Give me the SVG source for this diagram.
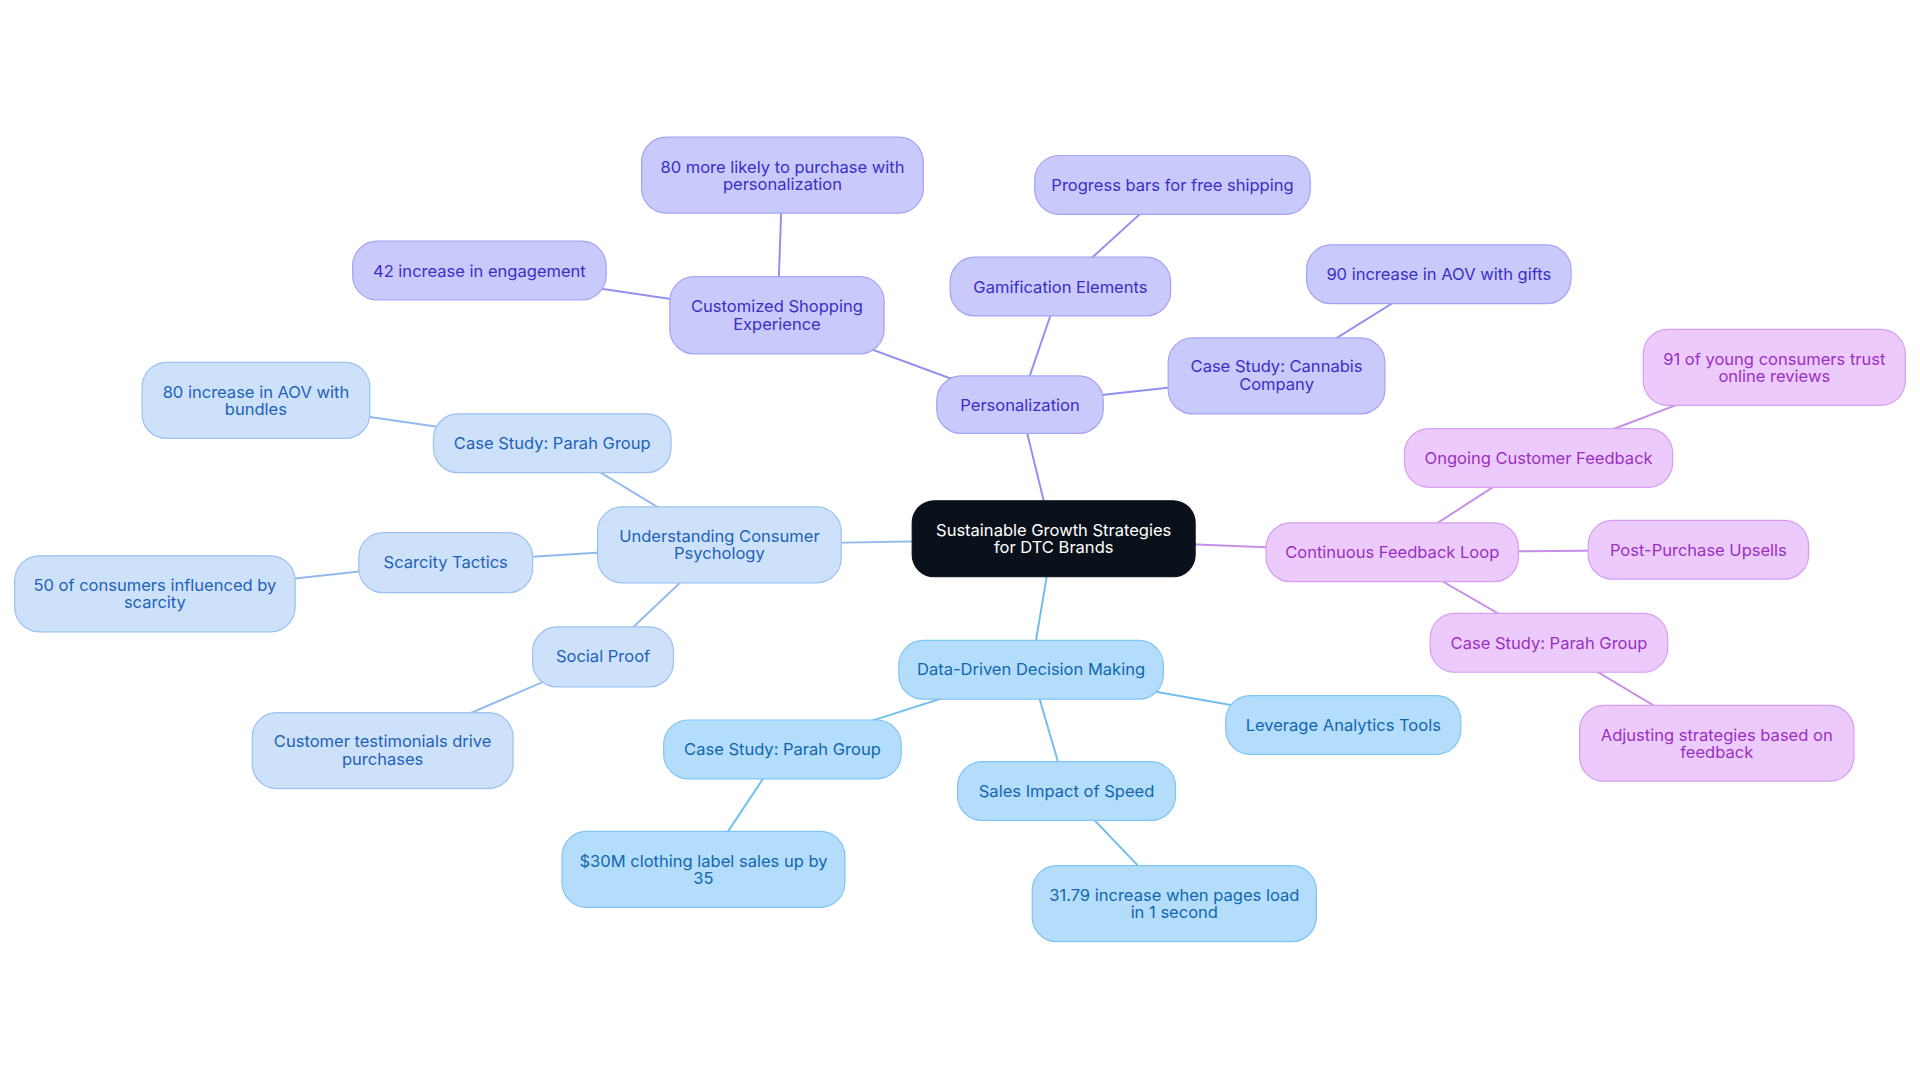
<svg xmlns="http://www.w3.org/2000/svg" width="1920" height="1083" viewBox="0 0 1920 1083">
<style>
text{font-family:Inter,"Noto Sans",sans-serif;font-size:13.5px;text-anchor:middle;dominant-baseline:central}
.p rect{fill:#c9c9fb;stroke:#a4a4f4}.p text{fill:#3b2fc4}
.b rect{fill:#cde1fa;stroke:#9cc2f1}.b text{fill:#1e63b8}
.s rect{fill:#b4dcfb;stroke:#80c5f4}.s text{fill:#1168ae}
.v rect{fill:#eccafb;stroke:#d59ff1}.v text{fill:#9a30c2}
.r rect{fill:#0b111b;stroke:#0b111b}.r text{fill:#fff}
#edges line{stroke-width:1.6}
.ep{stroke:#9090ee}.eb{stroke:#92b9ee}.es{stroke:#72bdee}.ev{stroke:#c68eea}
</style>
<rect width="1920" height="1083" fill="#fff"/>
<g transform="scale(1.2245)">
<g id="edges">
<line class="ep" x1="860" y1="440" x2="833" y2="330"/>
<line class="ep" x1="833" y1="330" x2="635" y2="257"/>
<line class="ep" x1="635" y1="257" x2="639" y2="143"/>
<line class="ep" x1="635" y1="257" x2="391" y2="221"/>
<line class="ep" x1="833" y1="330" x2="866" y2="234"/>
<line class="ep" x1="866" y1="234" x2="957" y2="151"/>
<line class="ep" x1="833" y1="330" x2="1042" y2="307"/>
<line class="ep" x1="1042" y1="307" x2="1175" y2="224"/>
<line class="eb" x1="860" y1="440" x2="588" y2="445"/>
<line class="eb" x1="588" y1="445" x2="451" y2="362"/>
<line class="eb" x1="451" y1="362" x2="209" y2="327"/>
<line class="eb" x1="588" y1="445" x2="364" y2="459"/>
<line class="eb" x1="364" y1="459" x2="126" y2="485"/>
<line class="eb" x1="588" y1="445" x2="492" y2="536"/>
<line class="eb" x1="492" y1="536" x2="313" y2="613"/>
<line class="es" x1="860" y1="440" x2="842" y2="547"/>
<line class="es" x1="842" y1="547" x2="639" y2="612"/>
<line class="es" x1="639" y1="612" x2="574" y2="710"/>
<line class="es" x1="842" y1="547" x2="871" y2="646"/>
<line class="es" x1="871" y1="646" x2="959" y2="738"/>
<line class="es" x1="842" y1="547" x2="1097" y2="592"/>
<line class="ev" x1="860" y1="440" x2="1137" y2="451"/>
<line class="ev" x1="1137" y1="451" x2="1256" y2="374"/>
<line class="ev" x1="1256" y1="374" x2="1449" y2="300"/>
<line class="ev" x1="1137" y1="451" x2="1387" y2="449"/>
<line class="ev" x1="1137" y1="451" x2="1265" y2="525"/>
<line class="ev" x1="1265" y1="525" x2="1402" y2="607"/>
</g>
<g id="root" class="r"><rect x="745" y="409" width="231" height="62" rx="18"/><text x="860.5" y="433">Sustainable Growth Strategies</text><text x="860.5" y="447">for DTC Brands</text></g>
<g id="n-pers" class="p"><rect x="765" y="307" width="136" height="47" rx="20"/><text x="833" y="330.5">Personalization</text></g>
<g id="n-cse" class="p"><rect x="547" y="226" width="175" height="63" rx="20"/><text x="634.5" y="250">Customized Shopping</text><text x="634.5" y="265">Experience</text></g>
<g id="n-80p" class="p"><rect x="524" y="112" width="230" height="62" rx="20"/><text x="639" y="136">80 more likely to purchase with</text><text x="639" y="150">personalization</text></g>
<g id="n-42" class="p"><rect x="288" y="197" width="207" height="48" rx="20"/><text x="391.5" y="221">42 increase in engagement</text></g>
<g id="n-gam" class="p"><rect x="776" y="210" width="180" height="48" rx="20"/><text x="866" y="234">Gamification Elements</text></g>
<g id="n-prog" class="p"><rect x="845" y="127" width="225" height="48" rx="20"/><text x="957.5" y="151">Progress bars for free shipping</text></g>
<g id="n-cann" class="p"><rect x="954" y="276" width="177" height="62" rx="20"/><text x="1042.5" y="299">Case Study: Cannabis</text><text x="1042.5" y="314">Company</text></g>
<g id="n-90" class="p"><rect x="1067" y="200" width="216" height="48" rx="20"/><text x="1175" y="224">90 increase in AOV with gifts</text></g>
<g id="n-ucp" class="b"><rect x="488" y="414" width="199" height="62" rx="20"/><text x="587.5" y="438">Understanding Consumer</text><text x="587.5" y="452">Psychology</text></g>
<g id="n-parah1" class="b"><rect x="354" y="338" width="194" height="48" rx="20"/><text x="451" y="362">Case Study: Parah Group</text></g>
<g id="n-80b" class="b"><rect x="116" y="296" width="186" height="62" rx="20"/><text x="209" y="320">80 increase in AOV with</text><text x="209" y="334">bundles</text></g>
<g id="n-scar" class="b"><rect x="293" y="435" width="142" height="49" rx="20"/><text x="364" y="459">Scarcity Tactics</text></g>
<g id="n-50" class="b"><rect x="12" y="454" width="229" height="62" rx="20"/><text x="126.5" y="478">50 of consumers influenced by</text><text x="126.5" y="492">scarcity</text></g>
<g id="n-soc" class="b"><rect x="435" y="512" width="115" height="49" rx="20"/><text x="492.5" y="536">Social Proof</text></g>
<g id="n-test" class="b"><rect x="206" y="582" width="213" height="62" rx="20"/><text x="312.5" y="605">Customer testimonials drive</text><text x="312.5" y="620">purchases</text></g>
<g id="n-ddm" class="s"><rect x="734" y="523" width="216" height="48" rx="20"/><text x="842" y="546">Data-Driven Decision Making</text></g>
<g id="n-parah2" class="s"><rect x="542" y="588" width="194" height="48" rx="20"/><text x="639" y="612">Case Study: Parah Group</text></g>
<g id="n-30m" class="s"><rect x="459" y="679" width="231" height="62" rx="20"/><text x="574.5" y="703">$30M clothing label sales up by</text><text x="574.5" y="717">35</text></g>
<g id="n-speed" class="s"><rect x="782" y="622" width="178" height="48" rx="20"/><text x="871" y="646">Sales Impact of Speed</text></g>
<g id="n-3179" class="s"><rect x="843" y="707" width="232" height="62" rx="20"/><text x="959" y="731">31.79 increase when pages load</text><text x="959" y="745">in 1 second</text></g>
<g id="n-lev" class="s"><rect x="1001" y="568" width="192" height="48" rx="20"/><text x="1097" y="592">Leverage Analytics Tools</text></g>
<g id="n-cfl" class="v"><rect x="1034" y="427" width="206" height="48" rx="20"/><text x="1137" y="451">Continuous Feedback Loop</text></g>
<g id="n-ocf" class="v"><rect x="1147" y="350" width="219" height="48" rx="20"/><text x="1256.5" y="374">Ongoing Customer Feedback</text></g>
<g id="n-91" class="v"><rect x="1342" y="269" width="214" height="62" rx="20"/><text x="1449" y="293">91 of young consumers trust</text><text x="1449" y="307">online reviews</text></g>
<g id="n-pps" class="v"><rect x="1297" y="425" width="180" height="48" rx="20"/><text x="1387" y="449">Post-Purchase Upsells</text></g>
<g id="n-parah3" class="v"><rect x="1168" y="501" width="194" height="48" rx="20"/><text x="1265" y="525">Case Study: Parah Group</text></g>
<g id="n-adj" class="v"><rect x="1290" y="576" width="224" height="62" rx="20"/><text x="1402" y="600">Adjusting strategies based on</text><text x="1402" y="614">feedback</text></g>
</g>
</svg>
